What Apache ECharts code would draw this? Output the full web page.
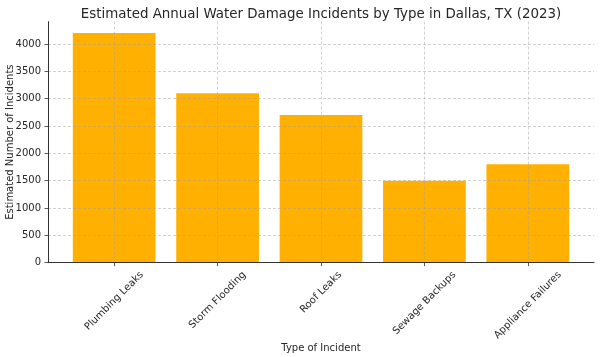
<!DOCTYPE html>
<html>
<head>
<meta charset="utf-8">
<script src="https://cdn.jsdelivr.net/npm/echarts@6/dist/echarts.min.js"></script>
<style>
html,body{margin:0;padding:0;background:#fff;}
#chart{width:600px;height:357px;}
</style>
</head>
<body>
<div id="chart"></div>
<script>
const categories = ['Plumbing Leaks', 'Storm Flooding', 'Roof Leaks', 'Sewage Backups', 'Appliance Failures'];
const incidents = [4200, 3100, 2700, 1500, 1800];
const yTicks = [0, 500, 1000, 1500, 2000, 2500, 3000, 3500, 4000];
const xTicks = [0, 1, 2, 3, 4];

const FONT = 'DejaVu Sans';
const TEXT = '#262626';
const LABEL_SIZE = 10;
const gridLine = { show: true, lineStyle: { color: 'rgba(160,160,160,0.6)', width: 0.8, type: [3, 2] } };

// Rotated tick labels are centred under their tick with their tops aligned (matplotlib style).
// Measure each label and shift it down (in screen space) via rich-text padding.
const ctx = document.createElement('canvas').getContext('2d');
ctx.font = LABEL_SIZE + 'px "' + FONT + '"';
const widths = categories.map(c => ctx.measureText(c).width);
const wMin = Math.min(...widths);
const K = Math.SQRT1_2 / 2;
const rich = {};
categories.forEach((c, i) => {
  const d = (widths[i] - wMin) * K;
  const p = d * Math.SQRT2;
  rich['c' + i] = { fontFamily: FONT, fontSize: LABEL_SIZE, color: TEXT, padding: [p, p, 0, 0] };
});
const labelMargin = 7 + (wMin + LABEL_SIZE) * K;

const chart = echarts.init(document.getElementById('chart'), null, { renderer: 'canvas' });
chart.setOption({
  animation: false,
  backgroundColor: '#ffffff',
  title: {
    text: 'Estimated Annual Water Damage Incidents by Type in Dallas, TX (2023)',
    left: 321, textAlign: 'center', top: 8, padding: 0,
    textStyle: { fontFamily: FONT, fontSize: 13.4, fontWeight: 'normal', color: TEXT }
  },
  grid: { left: 48, right: 6, top: 21.6, bottom: 94.3, containLabel: false, outerBoundsMode: 'none' },
  xAxis: {
    type: 'value', min: -0.64, max: 4.64, z: 5,
    name: 'Type of Incident', nameLocation: 'middle', nameGap: 81, nameMoveOverlap: false,
    nameTextStyle: { fontFamily: FONT, fontSize: 10, color: TEXT },
    axisLine: { show: true, onZero: false, lineStyle: { color: '#333', width: 1 } },
    axisTick: { show: true, inside: false, length: 3.5, customValues: xTicks, lineStyle: { color: '#333', width: 0.8 } },
    axisLabel: {
      customValues: xTicks, rotate: 45, align: 'center', verticalAlign: 'middle', margin: labelMargin,
      fontFamily: FONT, fontSize: LABEL_SIZE, color: TEXT, rich: rich,
      formatter: v => { const i = Math.round(v); return categories[i] ? '{c' + i + '|' + categories[i] + '}' : ''; }
    },
    splitLine: gridLine
  },
  yAxis: {
    type: 'value', min: 0, max: 4410, z: 5,
    name: 'Estimated Number of Incidents', nameLocation: 'middle', nameGap: 33, nameRotate: 90, nameMoveOverlap: false,
    nameTextStyle: { fontFamily: FONT, fontSize: 10, color: TEXT },
    axisLine: { show: true, onZero: false, lineStyle: { color: '#333', width: 1 } },
    axisTick: { show: true, inside: false, length: 3.5, customValues: yTicks, lineStyle: { color: '#333', width: 0.8 } },
    axisLabel: { customValues: yTicks, margin: 7, fontFamily: FONT, fontSize: 10, color: TEXT, formatter: v => String(v) },
    splitLine: gridLine
  },
  series: [{
    type: 'bar',
    data: incidents.map((v, i) => [xTicks[i], v]),
    barWidth: '80%',
    itemStyle: { color: '#FFB000' },
    z: 2
  }]
});
</script>
</body>
</html>
